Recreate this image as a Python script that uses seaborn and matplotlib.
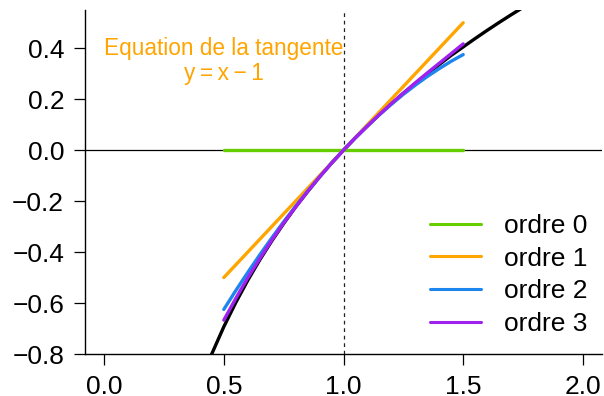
import numpy as np
import pandas as pd
import matplotlib
matplotlib.use("Agg")
import matplotlib.pyplot as plt
import seaborn as sns

# ln(x)
x_log = [0.44, 0.45, 0.50, 0.55, 0.60, 0.65, 0.70, 0.75, 0.80, 0.85, 0.90, 0.95, 1.00,
         1.05, 1.10, 1.15, 1.20, 1.25, 1.30, 1.35, 1.40, 1.45, 1.50, 1.55, 1.60, 1.65,
         1.70, 1.75]
y_log = [-0.821, -0.799, -0.693, -0.598, -0.511, -0.431, -0.357, -0.288, -0.223, -0.163,
         -0.105, -0.051, 0.0, 0.049, 0.095, 0.140, 0.182, 0.223, 0.262, 0.300, 0.336,
         0.372, 0.405, 0.438, 0.470, 0.501, 0.531, 0.560]

# Taylor approximations around x = 1
x_dl = [0.50, 0.55, 0.60, 0.65, 0.70, 0.75, 0.80, 0.85, 0.90, 0.95, 1.00,
        1.05, 1.10, 1.15, 1.20, 1.25, 1.30, 1.35, 1.40, 1.45, 1.50]
ordre0 = [0.0] * 21
ordre1 = [-0.50, -0.45, -0.40, -0.35, -0.30, -0.25, -0.20, -0.15, -0.10, -0.05, 0.0,
          0.05, 0.10, 0.15, 0.20, 0.25, 0.30, 0.35, 0.40, 0.45, 0.50]
ordre2 = [-0.625, -0.551, -0.480, -0.411, -0.345, -0.281, -0.220, -0.161, -0.105, -0.051, 0.0,
          0.049, 0.095, 0.139, 0.180, 0.219, 0.255, 0.289, 0.320, 0.349, 0.375]
ordre3 = [-0.667, -0.582, -0.501, -0.426, -0.354, -0.286, -0.223, -0.162, -0.105, -0.051, 0.0,
          0.049, 0.095, 0.140, 0.183, 0.224, 0.264, 0.303, 0.341, 0.379, 0.417]

labels = ["ordre 0", "ordre 1", "ordre 2", "ordre 3"]
colors = ["#66CD00", "#FFA500", "#1C86EE", "#A020F0"]

x_ticks = [0.0, 0.5, 1.0, 1.5, 2.0]
y_ticks = [-0.8, -0.6, -0.4, -0.2, 0.0, 0.2, 0.4]

sns.set_style("ticks")
plt.rcParams["font.family"] = ["Liberation Sans", "DejaVu Sans"]
plt.rcParams["text.color"] = "black"

fig = plt.figure(figsize=(6.04, 3.96), dpi=100)
ax = fig.add_axes([85 / 604, 1 - 354 / 396, 517 / 604, 344 / 396])

ax.axhline(0, color="black", lw=0.9, zorder=1)
ax.axvline(1, color="#222222", lw=0.9, ls=(0, (3, 3)), zorder=1)

sns.lineplot(x=x_log, y=y_log, color="black", lw=2.4, ax=ax, zorder=2)
for yy, lab, col in zip([ordre0, ordre1, ordre2, ordre3], labels, colors):
    sns.lineplot(x=x_dl, y=yy, color=col, lw=2.4, label=lab, ax=ax, zorder=3)

ax.text(0.5, 0.4, "Equation de la tangente", color="#FFA500", fontsize=16.3,
        ha="center", va="center")
ax.text(0.5, 0.3, "y\u2009=\u2009x\u2009\u2212\u20091", color="#FFA500", fontsize=16.3,
        ha="center", va="center")

ax.set_xlim(-0.08, 2.08)
ax.set_ylim(-0.8, 0.55)
ax.set_xticks(x_ticks)
ax.set_xticklabels([f"{v:.1f}" for v in x_ticks])
ax.set_yticks(y_ticks)
ax.set_yticklabels([f"{v:.1f}".replace("-", "\u2212") for v in y_ticks])
ax.tick_params(axis="both", direction="out", length=8, width=0.9, pad=7,
               labelsize=19, colors="black")
ax.set_xlabel("")
ax.set_ylabel("")
sns.despine(ax=ax)
for s in ["left", "bottom"]:
    ax.spines[s].set_linewidth(1.0)
    ax.spines[s].set_color("black")

leg = ax.legend(loc="upper left", bbox_to_anchor=(0.667, 0.407), frameon=False,
                fontsize=19, handlelength=1.95, handletextpad=0.85,
                labelspacing=0.33, borderpad=0, borderaxespad=0, labelcolor="black")
for h in leg.get_lines():
    h.set_linewidth(2.2)

fig.savefig("out.png", dpi=100)
